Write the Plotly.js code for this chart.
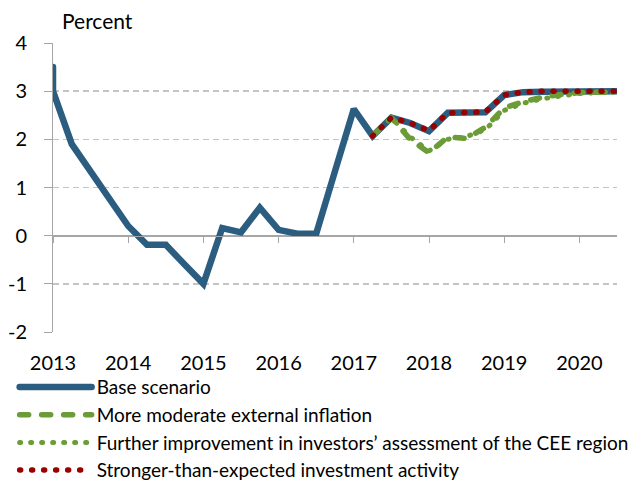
<!DOCTYPE html>
<html>
<head>
<meta charset="utf-8">
<script src="https://cdn.plot.ly/plotly-3.0.1.min.js"></script>
<style>
  html, body { margin: 0; padding: 0; background: #fff; }
  #chart { width: 641px; height: 483px; }
  .js-line { stroke-linecap: round; }
</style>
</head>
<body>
<div id="chart"></div>
<script>
// ---- data ----
const baseX = [2013, 2013, 2013.25, 2013.5, 2013.75, 2014, 2014.25, 2014.5, 2014.75,
  2015, 2015.25, 2015.5, 2015.75, 2016, 2016.25, 2016.5, 2016.75, 2017, 2017.25,
  2017.5, 2017.75, 2018, 2018.25, 2018.5, 2018.75, 2019, 2019.25, 2019.5, 2019.75,
  2020, 2020.25, 2020.5];
const baseY = [3.5, 3.0, 1.9, 1.32, 0.77, 0.2, -0.19, -0.19, -0.6,
  -1.0, 0.16, 0.07, 0.58, 0.12, 0.04, 0.04, 1.34, 2.63, 2.07,
  2.45, 2.34, 2.17, 2.55, 2.56, 2.56, 2.92, 2.98, 2.99, 3.0,
  3.0, 3.0, 3.0];

const scenX = [2017.25, 2017.5, 2017.75, 2018, 2018.25, 2018.5, 2018.75, 2019,
  2019.25, 2019.5, 2019.75, 2020, 2020.25, 2020.5];
const externalY = [2.07, 2.45, 2.0, 1.72, 2.05, 2.02, 2.25, 2.65,
  2.78, 2.87, 2.93, 2.97, 2.98, 2.98];
const investorsY = [2.07, 2.45, 2.05, 1.76, 2.0, 2.06, 2.2, 2.6,
  2.75, 2.84, 2.9, 2.95, 2.97, 2.98];
const investmentY = [2.07, 2.45, 2.34, 2.18, 2.55, 2.56, 2.57, 2.92,
  2.98, 3.0, 3.0, 3.01, 3.01, 3.0];

const names = [
  'Base scenario',
  'More moderate external inflation',
  'Further improvement in investors’ assessment of the CEE region',
  'Stronger-than-expected investment activity'
];
const yearTicks = [2013, 2014, 2015, 2016, 2017, 2018, 2019, 2020];
const yTicks = [-2, -1, 0, 1, 2, 3, 4];

// ---- traces ----
const traces = [
  { x: baseX, y: baseY, name: names[0], type: 'scatter', mode: 'lines', legendgroup: 'a',
    line: { color: '#2b5d80', width: 6.5 } },
  { x: scenX, y: externalY, name: names[1], type: 'scatter', mode: 'lines', legendgroup: 'b',
    line: { color: '#6c9c37', width: 5.5, dash: '9px,13px' } },
  { x: scenX, y: investorsY, name: names[2], type: 'scatter', mode: 'lines', legendgroup: 'c',
    line: { color: '#6c9c37', width: 5, dash: '1px,10px' } },
  { x: scenX, y: investmentY, name: names[3], type: 'scatter', mode: 'lines', legendgroup: 'd',
    line: { color: '#990000', width: 5.5, dash: '1px,11px' } },
  { x: [yearTicks[0]], y: [yTicks[0]], xaxis: 'x2', type: 'scatter', mode: 'markers',
    marker: { opacity: 0 }, showlegend: false, hoverinfo: 'skip' }
];

const fontFam = 'Lato, "Open Sans", sans-serif';
const layout = {
  width: 641, height: 483,
  margin: { l: 53, r: 24, t: 43, b: 151, autoexpand: false },
  paper_bgcolor: '#fff', plot_bgcolor: '#fff',
  font: { family: fontFam, color: '#000', size: 19 },
  title: { text: 'Percent', x: 62 / 641, xref: 'container', xanchor: 'left',
    y: 1 - 22 / 483, yref: 'container', yanchor: 'middle',
    font: { family: fontFam, size: 21, color: '#000' } },
  xaxis: {
    range: [2013, 2020.5], tickvals: yearTicks, ticktext: yearTicks.map(String),
    showgrid: false, zeroline: false, showline: false,
    ticks: 'outside', ticklen: 0, tickcolor: 'rgba(0,0,0,0)', ticklabelstandoff: 13,
    tickfont: { family: fontFam, size: 20, color: '#000' }
  },
  xaxis2: {
    overlaying: 'x', anchor: 'free', position: (0 - yTicks[0]) / (yTicks[yTicks.length - 1] - yTicks[0]),
    range: [2013, 2020.5], tickvals: yearTicks, showticklabels: false,
    showgrid: false, zeroline: false, showline: true, linecolor: '#a6a6a6', linewidth: 1,
    ticks: 'outside', ticklen: 6, tickcolor: '#a6a6a6', tickwidth: 1
  },
  yaxis: {
    range: [-2, 4], tickvals: yTicks, ticktext: yTicks.map(String),
    showgrid: true, gridcolor: '#c4c4c4', gridwidth: 1.5, griddash: '6px,4px',
    zeroline: true, zerolinecolor: '#a6a6a6', zerolinewidth: 1,
    showline: true, linecolor: '#a6a6a6', linewidth: 1,
    ticks: 'outside', ticklen: 8, tickcolor: '#a6a6a6', tickwidth: 1, ticklabelstandoff: 13,
    tickfont: { family: fontFam, size: 20, color: '#000' }
  },
  legend: {
    x: -0.068, xanchor: 'left', y: -0.125, yanchor: 'top',
    orientation: 'v', itemwidth: 72, tracegroupgap: 0,
    bgcolor: 'rgba(0,0,0,0)', font: { family: fontFam, size: 19, color: '#000' }
  },
  showlegend: true
};

Plotly.newPlot('chart', traces, layout, { staticPlot: true, displayModeBar: false });
</script>
</body>
</html>
